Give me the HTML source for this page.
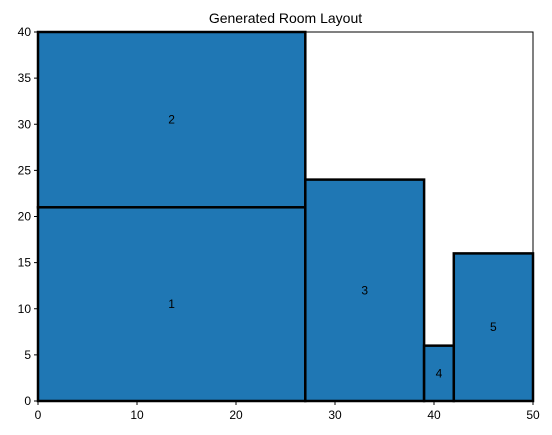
<!DOCTYPE html>
<html><head><meta charset="utf-8"><style>body{margin:0;background:#fff}svg{display:block;font-family:"Liberation Sans","DejaVu Sans",sans-serif}</style></head>
<body>
<svg id="c" width="552" height="435" viewBox="0 0 552 435"></svg>
<script>
const roomIds=[1,2,3,4,5];
const roomX=[0,0,27,39,42];
const roomY=[0,21,0,0,0];
const roomW=[27,27,12,3,8];
const roomH=[21,19,24,6,16];
const xTicks=[0,10,20,30,40,50];
const yTicks=[0,5,10,15,20,25,30,35,40];
const L=38,R=533,T=32,B=401;
const sx=v=>L+(v-0)/(50-0)*(R-L);
const sy=v=>B-(v-0)/(40-0)*(B-T);
const svg=document.getElementById('c');
const NS='http://www.w3.org/2000/svg';
function mk(t,a,p){const e=document.createElementNS(NS,t);for(const k in a)e.setAttribute(k,a[k]);(p||svg).appendChild(e);return e;}
const title=mk('text',{x:(L+R)/2,y:23,'text-anchor':'middle','font-size':14});
title.textContent='Generated Room Layout';


for(let i=0;i<roomIds.length;i++){
  const x0=sx(roomX[i]),x1=sx(roomX[i]+roomW[i]),y0=sy(roomY[i]+roomH[i]),y1=sy(roomY[i]);
  const r=mk('rect',{x:x0,y:y0,width:x1-x0,height:y1-y0,fill:'#1f77b4',stroke:'#000','stroke-width':2.5});
  
  
  const t=mk('text',{x:sx(roomX[i]+roomW[i]/2),y:sy(roomY[i]+roomH[i]/2)+4,'text-anchor':'middle','font-size':12});
  t.textContent=roomIds[i];
  
  
}
const frame=mk('rect',{x:L,y:T,width:R-L,height:B-T,fill:'none',stroke:'#000','stroke-width':1});


xTicks.forEach(v=>{
  mk('line',{x1:sx(v),x2:sx(v),y1:B,y2:B+4,stroke:'#000'});
  const t=mk('text',{x:sx(v),y:B+18,'text-anchor':'middle','font-size':12});
  t.textContent=v;
  
  
});
yTicks.forEach(v=>{
  mk('line',{x1:L-4,x2:L,y1:sy(v),y2:sy(v),stroke:'#000'});
  const t=mk('text',{x:L-7,y:sy(v)+4,'text-anchor':'end','font-size':12});
  t.textContent=v;
  
  
});
</script>
</body></html>
